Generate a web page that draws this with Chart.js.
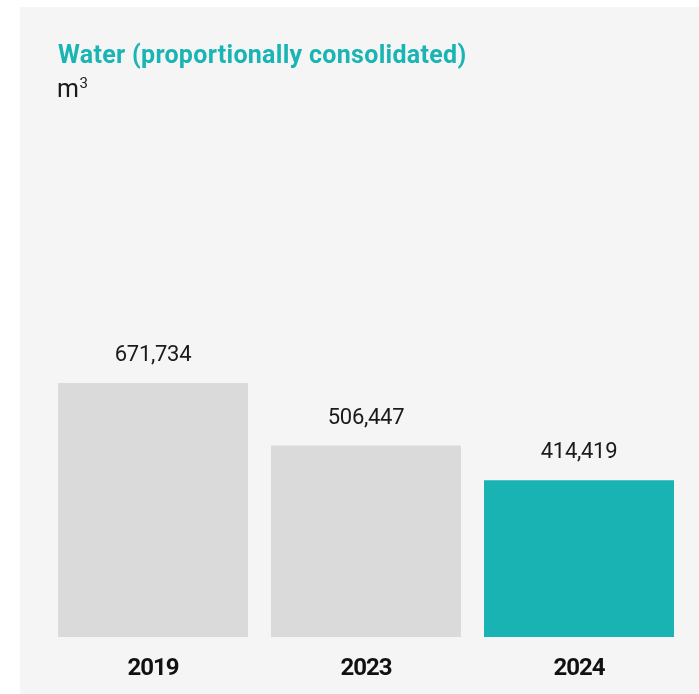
<!DOCTYPE html>
<html>
<head>
<meta charset="utf-8">
<script src="https://cdn.jsdelivr.net/npm/chart.js@4"></script>
<style>
  html, body { margin: 0; padding: 0; background: #ffffff; }
  #wrap { position: relative; width: 699px; height: 694px; }
</style>
</head>
<body>
<div id="wrap"><canvas id="waterChart"></canvas></div>
<script>
// Years shown on the x axis
const years = ['2019', '2023', '2024'];

// Water use in m3
const waterValues = [671734, 506447, 414419];

// Bar fills: older years grey, latest year teal
const barColors = ['#dadada', '#dadada', '#19b3b3'];

const titleText = 'Water (proportionally consolidated)';
const unitText = 'm';
const unitSup = '3';

const TEAL = '#1ab4b4';
const INK = '#1a1a1a';

// Light panel behind everything, plus the heading and unit line
const panelPlugin = {
    id: 'panel',
    beforeDraw(chart) {
        const ctx = chart.ctx;
        ctx.save();
        ctx.fillStyle = '#f5f5f5';
        ctx.fillRect(20, 7, 679, 687);

        ctx.textAlign = 'left';
        ctx.textBaseline = 'alphabetic';
        ctx.fillStyle = TEAL;
        ctx.font = 'bold 25px Roboto';
        ctx.letterSpacing = '0.3px';
        ctx.fillText(titleText, 58, 63);

        ctx.fillStyle = INK;
        ctx.font = '25px Roboto';
        ctx.letterSpacing = '-0.5px';
        ctx.fillText(unitText, 57, 97);
        const w = ctx.measureText(unitText).width;
        ctx.font = '15px Roboto';
        ctx.fillText(unitSup, 57 + w + 1, 88);
        ctx.restore();
        // tighter tracking for the axis labels drawn afterwards
        ctx.letterSpacing = '-1px';
    }
};

// Value printed above each bar
const valueLabels = {
    id: 'valueLabels',
    afterDatasetsDraw(chart) {
        const ctx = chart.ctx;
        const meta = chart.getDatasetMeta(0);
        ctx.save();
        ctx.font = '22px Roboto';
        ctx.letterSpacing = '-0.3px';
        ctx.fillStyle = INK;
        ctx.textAlign = 'center';
        ctx.textBaseline = 'alphabetic';
        meta.data.forEach((bar, i) => {
            ctx.fillText(waterValues[i].toLocaleString('en-US'), bar.x, bar.y - 22);
        });
        ctx.restore();
    }
};

const ctxWater = document.getElementById('waterChart').getContext('2d');
new Chart(ctxWater, {
    type: 'bar',
    data: {
        labels: years,
        datasets: [{
            data: waterValues,
            backgroundColor: barColors,
            borderWidth: 0,
            barPercentage: 0.892,
            categoryPercentage: 1.0,
        }],
    },
    options: {
        responsive: true,
        maintainAspectRatio: false,
        animation: false,
        layout: {
            padding: { left: 46.5, right: 13.5, top: 259, bottom: 0 }
        },
        plugins: {
            legend: { display: false },
            tooltip: { enabled: false },
        },
        scales: {
            x: {
                grid: { display: false, drawTicks: false },
                border: { display: false },
                ticks: {
                    color: '#111111',
                    padding: 18,
                    font: { family: 'Roboto', size: 24, weight: 'bold' },
                },
                afterFit(scale) { scale.height = 57; },
            },
            y: {
                display: false,
                min: 0,
                max: 1000000,
            },
        },
    },
    plugins: [panelPlugin, valueLabels],
});
</script>
</body>
</html>
